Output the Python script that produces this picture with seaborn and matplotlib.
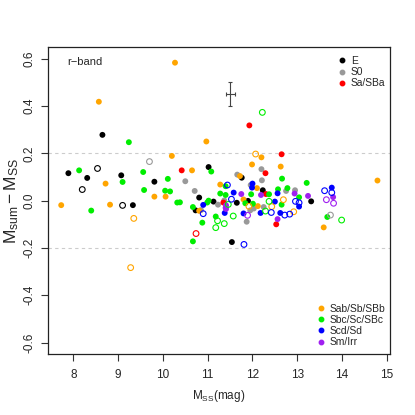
import matplotlib
matplotlib.use("Agg")
import matplotlib.pyplot as plt
import seaborn as sns
import pandas as pd
from matplotlib.lines import Line2D

# ---------------- data ----------------
e_x = [7.89, 8.31, 8.65, 9.07, 9.81, 10.81, 11.02, 9.33, 10.73, 11.13, 11.65, 11.90, 12.23, 13.31, 11.54, 11.76]
e_y = [0.116, 0.096, 0.278, 0.107, 0.080, 0.013, 0.142, -0.019, -0.041, -0.004, -0.009, -0.001, 0.044, -0.003, -0.175, 0.097]
e_ox = [8.54, 8.20, 9.10]
e_oy = [0.136, 0.047, -0.020]

s0_x = [10.50, 10.71, 11.23, 11.37, 11.66, 12.20, 12.21, 11.96, 12.75, 12.95, 11.87, 12.25, 11.95, 12.03, 10.85]
s0_y = [0.082, 0.041, -0.017, 0.001, 0.110, 0.133, 0.086, 0.066, 0.041, 0.044, -0.089, -0.027, -0.041, -0.033, -0.040]
s0_ox = [9.70, 13.74]
s0_oy = [0.165, -0.061]

sa_x = [10.42, 11.93, 12.65, 12.29, 11.35, 12.30, 12.53]
sa_y = [0.128, 0.318, 0.196, 0.116, -0.008, 0.028, -0.100]
sa_ox = [10.74]
sa_oy = [-0.139]

sab_x = [10.27, 8.57, 10.97, 10.20, 10.65, 8.72, 9.81, 10.06, 11.28, 7.73, 8.82, 10.81, 12.20, 11.99, 12.63,
         11.72, 14.79, 12.10, 13.59, 11.80, 12.12]
sab_y = [0.583, 0.418, 0.250, 0.189, 0.128, 0.072, 0.017, 0.017, 0.068, -0.019, -0.017, -0.043, 0.183, 0.153, 0.144,
         0.104, 0.085, 0.053, -0.113, 0.005, -0.023]
sab_ox = [9.35, 9.28, 12.07, 12.92, 12.69, 12.43, 11.92]
sab_oy = [-0.075, -0.283, 0.197, -0.047, 0.004, -0.025, -0.024]

sbc_x = [8.13, 9.24, 11.08, 9.10, 9.56, 10.11, 9.58, 10.05, 10.16, 11.28, 11.40, 8.40, 10.32, 10.38, 10.67,
         10.99, 10.88, 11.18, 10.67, 12.66, 13.21, 12.57, 12.78, 13.04, 13.67, 11.97, 12.37, 11.84, 12.01, 12.65,
         11.40, 11.02]
sbc_y = [0.128, 0.247, 0.123, 0.079, 0.121, 0.092, 0.045, 0.042, 0.039, 0.030, 0.024, -0.042, -0.008, -0.007, -0.027,
         -0.008, -0.093, -0.067, -0.172, 0.093, 0.075, 0.048, 0.053, 0.014, -0.069, 0.027, 0.027, -0.011, -0.013, -0.017,
         0.061, 0.000]
sbc_ox = [11.22, 11.18, 11.37, 12.22, 13.99, 12.29, 11.57, 12.37, 11.46]
sbc_oy = [-0.085, -0.114, -0.097, 0.373, -0.082, -0.044, -0.065, -0.003, -0.016]

scd_x = [10.90, 11.38, 12.00, 11.99, 12.56, 12.50, 13.04, 13.77, 11.80, 12.18, 12.62, 11.58]
scd_y = [-0.018, -0.052, 0.072, 0.055, 0.031, -0.004, -0.025, 0.055, -0.054, -0.052, -0.052, 0.034]
scd_ox = [11.44, 10.90, 12.96, 13.04, 13.61, 13.77, 11.81, 12.42, 12.72, 12.83, 11.53]
scd_oy = [0.066, -0.055, -0.003, -0.009, 0.042, 0.034, -0.185, -0.050, -0.061, -0.057, 0.006]

sm_x = [11.40, 12.94, 13.24, 13.80, 12.56, 11.75, 12.19, 11.41, 11.41]
sm_y = [-0.030, 0.030, 0.020, 0.015, -0.078, 0.028, 0.024, -0.020, -0.035]
sm_ox = [13.65, 13.81, 11.89]
sm_oy = [0.004, -0.011, -0.062]

types = ["E", "S0", "Sa/SBa", "Sab/Sb/SBb", "Sbc/Sc/SBc", "Scd/Sd", "Sm/Irr"]
colors = ["#000000", "#999999", "#ff0000", "#ffa500", "#00ee00", "#0000ff", "#a020f0"]
x_ticks = [8, 9, 10, 11, 12, 13, 14, 15]
y_ticks = [-0.6, -0.4, -0.2, 0.0, 0.2, 0.4, 0.6]

# error bar (typical uncertainty)
err_x, err_y, err_dx, err_dy = 11.5, 0.45, 0.1, 0.05

# ---------------- build table ----------------
groups = [
    ("E", e_x, e_y, e_ox, e_oy),
    ("S0", s0_x, s0_y, s0_ox, s0_oy),
    ("Sa/SBa", sa_x, sa_y, sa_ox, sa_oy),
    ("Sab/Sb/SBb", sab_x, sab_y, sab_ox, sab_oy),
    ("Sbc/Sc/SBc", sbc_x, sbc_y, sbc_ox, sbc_oy),
    ("Scd/Sd", scd_x, scd_y, scd_ox, scd_oy),
    ("Sm/Irr", sm_x, sm_y, sm_ox, sm_oy),
]
rows = []
for t, fx, fy, ox, oy in groups:
    rows += [dict(mss=a, dm=b, type=t, filled=True) for a, b in zip(fx, fy)]
    rows += [dict(mss=a, dm=b, type=t, filled=False) for a, b in zip(ox, oy)]
df = pd.DataFrame(rows)
pal = dict(zip(types, colors))

# ---------------- plot ----------------
sns.set_style("ticks")
plt.rcParams["font.family"] = ["Liberation Sans", "DejaVu Sans"]
plt.rcParams["mathtext.fontset"] = "custom"
plt.rcParams["mathtext.rm"] = "Liberation Sans"
plt.rcParams["mathtext.it"] = "Liberation Sans"

fig = plt.figure(figsize=(4.15, 4.15), dpi=100)
ax = fig.add_axes([48/415, 1-354/415, 342/415, 306.7/415])

ax.axhline(0.2, color="#cccccc", lw=0.8, ls=(0, (3, 3)), zorder=1)
ax.axhline(-0.2, color="#cccccc", lw=0.8, ls=(0, (3, 3)), zorder=1)

sns.scatterplot(data=df[df.filled], x="mss", y="dm", hue="type", palette=pal,
                s=18, linewidth=0, legend=False, ax=ax, zorder=3)
n_before = len(ax.collections)
sns.scatterplot(data=df[~df.filled], x="mss", y="dm", hue="type", palette=pal,
                s=17, linewidth=0, legend=False, ax=ax, zorder=3)
for coll in ax.collections[n_before:]:
    fc = coll.get_facecolors()
    coll.set_edgecolors(fc)
    coll.set_facecolors("none")
    coll.set_linewidth(0.8)

ax.errorbar(err_x, err_y, xerr=err_dx, yerr=err_dy, color="#444444", lw=0.8,
            capsize=1.3, capthick=0.8, zorder=4)

ax.set_xlim(7.435, 15.07)
ax.set_ylim(-0.648, 0.648)
ax.set_xticks(x_ticks)
ax.set_yticks(y_ticks)
ax.set_yticklabels([f"{v:.1f}" for v in y_ticks], rotation=90, va="center")
ax.tick_params(axis="both", labelsize=8.5, length=5, width=0.8, color="#333333", pad=4)
ax.tick_params(axis="x", pad=6)
for sp in ax.spines.values():
    sp.set_visible(True)
    sp.set_linewidth(0.9)
    sp.set_color("#222222")

ax.set_xlabel(r"$\mathrm{M_{SS}}$(mag)", fontsize=8.5, labelpad=5)
ax.set_ylabel(r"$\mathrm{M_{sum} - M_{SS}}$", fontsize=12.5, labelpad=2)

ax.text(0.056, 0.953, "r\u2212band", transform=ax.transAxes, fontsize=8, va="center", ha="left")

def handles(names):
    return [Line2D([], [], marker="o", ls="", color=pal[n], markersize=3.2) for n in names]

leg1 = ax.legend(handles(types[:3]), types[:3], loc="upper right", bbox_to_anchor=(0.987, 0.972),
                 frameon=False, fontsize=7.4, borderpad=0, borderaxespad=0, handlelength=0.6,
                 handletextpad=0.55, labelspacing=0.12)
ax.add_artist(leg1)
ax.legend(handles(types[3:]), types[3:], loc="lower right", bbox_to_anchor=(0.987, 0.022),
          frameon=False, fontsize=7.4, borderpad=0, borderaxespad=0, handlelength=0.6,
          handletextpad=0.55, labelspacing=0.12)

fig.savefig("out.png", dpi=100)
